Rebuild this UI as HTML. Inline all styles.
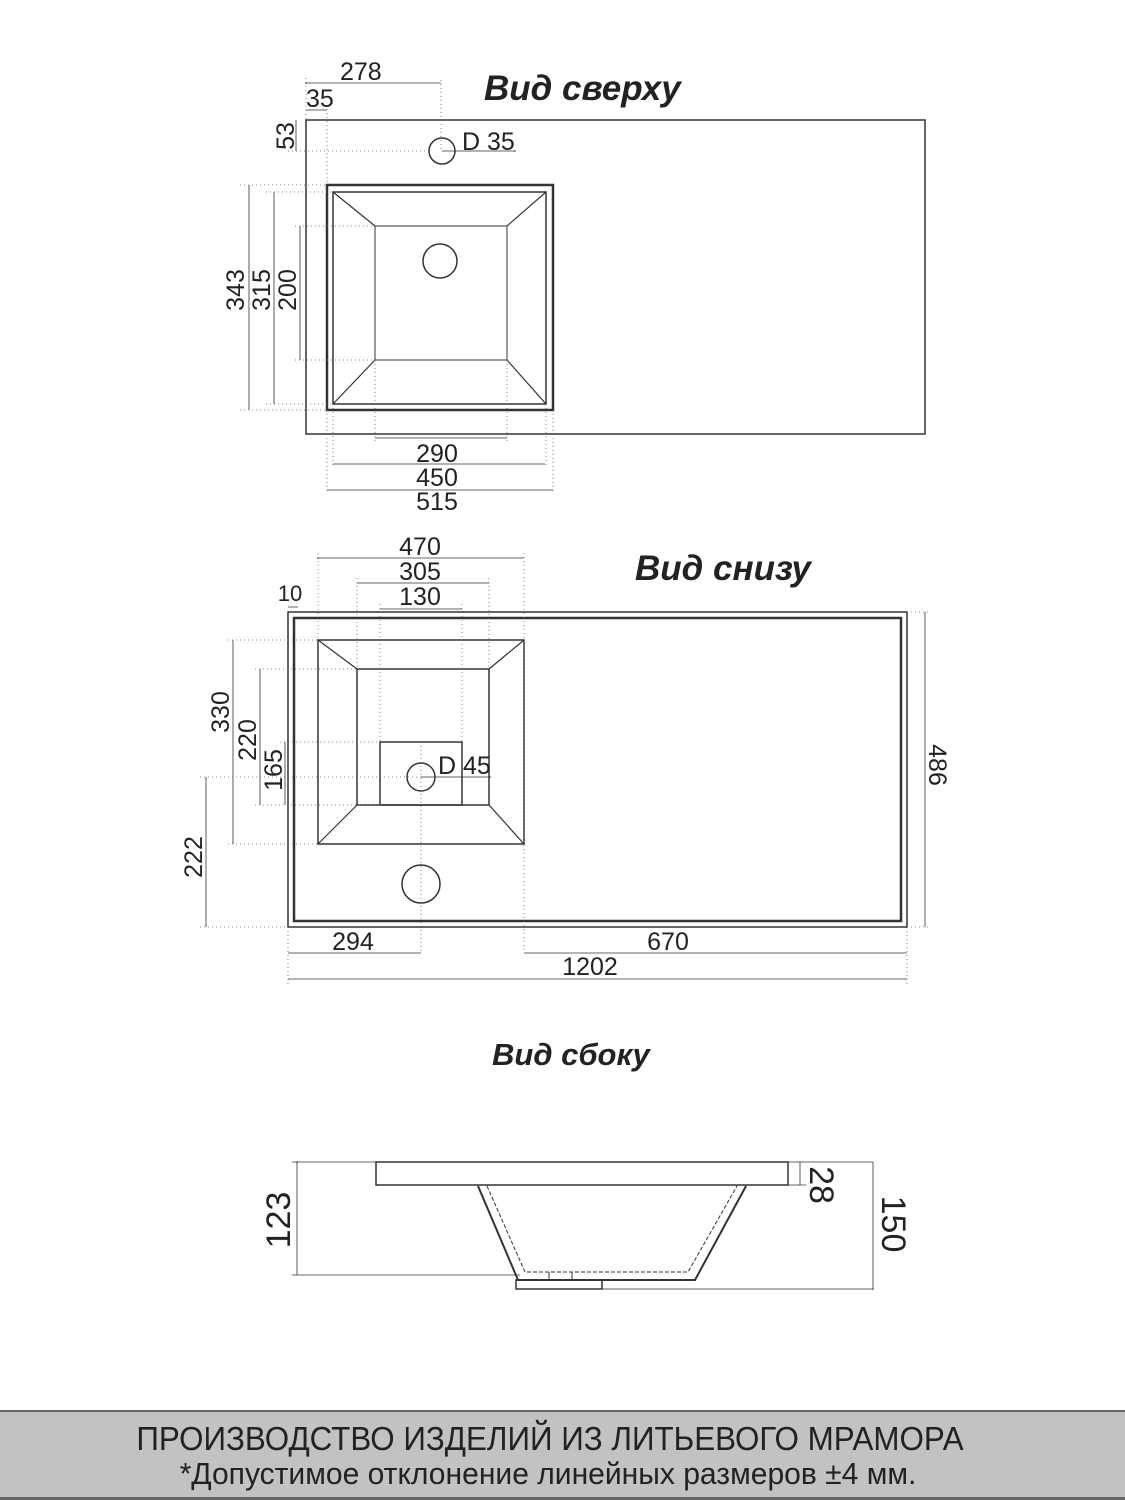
<!DOCTYPE html>
<html><head><meta charset="utf-8"><style>
html,body{margin:0;padding:0;background:#fff;}
svg{display:block;}
text{font-family:"Liberation Sans",sans-serif;fill:#222;}
.t{font-size:25px;}
.h{font-weight:bold;font-style:italic;}
</style></head><body>
<svg width="1125" height="1500" viewBox="0 0 1125 1500" xmlns="http://www.w3.org/2000/svg">
<defs><marker id="a" viewBox="0 0 6 6" refX="3" refY="3" markerWidth="3" markerHeight="3"><circle cx="3" cy="3" r="2" fill="#333"/></marker></defs>
<g stroke="#333" fill="none">
<!-- TOP VIEW -->
<rect x="306" y="120" width="619" height="314" stroke-width="1.5"/>
<rect x="327" y="185" width="226" height="225" stroke-width="2.5"/>
<rect x="333" y="192" width="213" height="212" stroke-width="1.5"/>
<rect x="375" y="226" width="132" height="134" stroke-width="1"/>
<path d="M333 192L375 226M546 192L507 226M333 404L375 360M546 404L507 360" stroke-width="1.2"/>
<circle cx="440" cy="261" r="17" stroke-width="1.5"/>
<circle cx="442" cy="151" r="13" stroke-width="1.5"/>
<g stroke-width="0.8">
<path d="M306 83H441M306 110H327M296 120V151M249 185V410M274 192V404M300 226V360M375 438H507M333 464H545M327 490H553M442 151H515" marker-start="url(#a)" marker-end="url(#a)"/>
<path d="M306 78V120M441 80V151M327 105V185M288 151H430M240 185H327M266 192H333M295 226H375M295 360H375M240 410H327M266 404H333M375 360V442M507 360V442M333 404V468M546 404V468M327 410V494M553 410V494" stroke-dasharray="1 3" stroke="#666"/>
</g>
<!-- BOTTOM VIEW -->
<rect x="288" y="612" width="619" height="315" stroke-width="1.5"/>
<rect x="294" y="618" width="607" height="303" stroke-width="2.5"/>
<rect x="318" y="640" width="206" height="204" stroke-width="1.5"/>
<rect x="357" y="669" width="132" height="136" stroke-width="1.5"/>
<rect x="380" y="742" width="82" height="63" stroke-width="1.5"/>
<path d="M318 640L357 669M524 640L489 669M318 844L357 805M524 844L489 805" stroke-width="1.2"/>
<circle cx="421" cy="777" r="14" stroke-width="1.5"/>
<circle cx="421" cy="884" r="19" stroke-width="1.5"/>
<g stroke-width="0.8">
<path d="M318 558H524M357 583H489M380 609H462M288 607H298M233 640V844M260 669V805M285 742V805M206 777V927M288 953H421M524 953H907M288 979H907M925 612V927M421 777H490" marker-start="url(#a)" marker-end="url(#a)"/>
<path d="M318 553V640M524 553V953M357 578V669M489 578V669M380 604V742M462 604V742M421 742V953M228 640H318M255 669H357M280 742H380M200 777H421M255 805H380M228 844H318M200 927H288M288 927V985M907 927V985M907 612H930M907 927H930" stroke-dasharray="1 3" stroke="#666"/>
</g>
<!-- SIDE VIEW -->
<rect x="376" y="1162" width="412" height="23" stroke-width="1.5"/>
<path d="M478 1186L518 1280H695L746 1186" stroke-width="2"/>
<path d="M487 1186L525 1272H688L737 1186" stroke-width="1" stroke-dasharray="4 2"/>
<path d="M549 1272V1280M572 1272V1280" stroke-width="1"/>
<rect x="516" y="1280" width="86" height="9" stroke-width="1.5"/>
<g stroke-width="0.8">
<path d="M292 1162H873M292 1275H520M602 1289H873M788 1185H806"/>
<path d="M297 1162V1275M800 1162V1185M873 1162V1289" marker-start="url(#a)" marker-end="url(#a)"/>
</g>
</g>
<!-- TEXT -->
<text x="484" y="100" font-size="35" class="h">Вид сверху</text>
<text x="340" y="80" class="t">278</text>
<text x="306" y="107" class="t">35</text>
<text x="462" y="150" class="t">D 35</text>
<text transform="translate(294,136) rotate(-90)" class="t" text-anchor="middle">53</text>
<text transform="translate(244,290) rotate(-90)" class="t" text-anchor="middle">343</text>
<text transform="translate(270,290) rotate(-90)" class="t" text-anchor="middle">315</text>
<text transform="translate(296,290) rotate(-90)" class="t" text-anchor="middle">200</text>
<text x="437" y="462" class="t" text-anchor="middle">290</text>
<text x="437" y="486" class="t" text-anchor="middle">450</text>
<text x="437" y="510" class="t" text-anchor="middle">515</text>

<text x="635" y="580" font-size="35" class="h">Вид снизу</text>
<text x="420" y="555" class="t" text-anchor="middle">470</text>
<text x="420" y="580" class="t" text-anchor="middle">305</text>
<text x="420" y="605" class="t" text-anchor="middle">130</text>
<text x="290" y="601" font-size="22" text-anchor="middle">10</text>
<text x="438" y="774" class="t">D 45</text>
<text transform="translate(229,712) rotate(-90)" class="t" text-anchor="middle">330</text>
<text transform="translate(256,740) rotate(-90)" class="t" text-anchor="middle">220</text>
<text transform="translate(282,770) rotate(-90)" class="t" text-anchor="middle">165</text>
<text transform="translate(202,857) rotate(-90)" class="t" text-anchor="middle">222</text>
<text transform="translate(929,765) rotate(90)" class="t" text-anchor="middle">486</text>
<text x="353" y="950" class="t" text-anchor="middle">294</text>
<text x="668" y="950" class="t" text-anchor="middle">670</text>
<text x="590" y="975" class="t" text-anchor="middle">1202</text>

<text x="492" y="1065" font-size="31" class="h">Вид сбоку</text>
<text transform="translate(290,1220) rotate(-90)" font-size="34" text-anchor="middle">123</text>
<text transform="translate(810,1185) rotate(90)" font-size="34" text-anchor="middle">28</text>
<text transform="translate(882,1224) rotate(90)" font-size="34" text-anchor="middle">150</text>
<!-- FOOTER -->
<rect x="0" y="1411" width="1125" height="88" fill="#c2c2c2"/>
<rect x="0" y="1410" width="1125" height="2" fill="#666"/>
<rect x="0" y="1497" width="1125" height="3" fill="#666"/>
<text x="550" y="1450" font-size="33" text-anchor="middle" transform="translate(550,0) scale(0.95,1) translate(-550,0)" style="fill:#222">ПРОИЗВОДСТВО ИЗДЕЛИЙ ИЗ ЛИТЬЕВОГО МРАМОРА</text>
<text x="548" y="1484" font-size="31" text-anchor="middle" transform="translate(548,0) scale(0.97,1) translate(-548,0)" style="fill:#222">*Допустимое отклонение линейных размеров ±4 мм.</text>
</svg>
</body></html>
